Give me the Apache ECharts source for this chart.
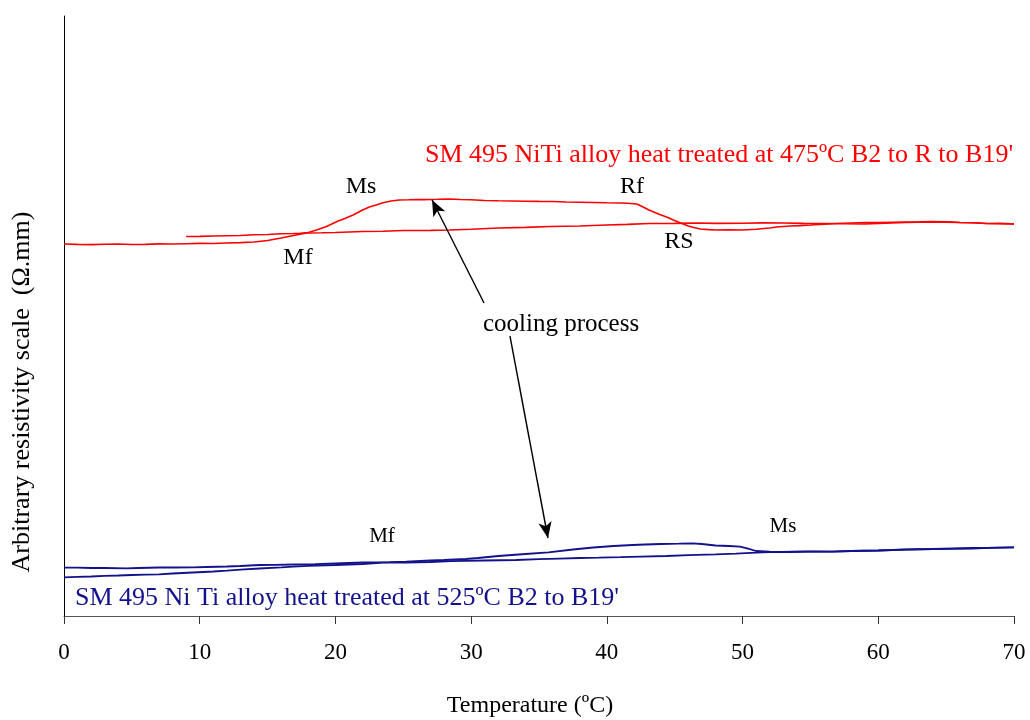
<!DOCTYPE html>
<html>
<head>
<meta charset="utf-8">
<title>Resistivity vs temperature</title>
<script src="https://cdn.jsdelivr.net/npm/echarts@6/dist/echarts.min.js"></script>
<style>
  html, body { margin: 0; padding: 0; background: #fff; }
  #chart { width: 1030px; height: 720px; }
</style>
</head>
<body>
<div id="chart"></div>
<script>
// Temperature ticks (ºC)
const xTicks = [0, 10, 20, 30, 40, 50, 60, 70];

// 475ºC sample (B2 -> R -> B19'), arbitrary resistivity units
const redHeating = [
  [0, 372], [1, 371.6], [2, 371.4], [3, 371.8], [4, 372], [5, 371.5], [6, 371.6], [7, 372.1],
  [8, 372], [9, 372.3], [10, 372.6], [11, 372.5], [12, 373], [13, 373.4], [14, 374],
  [15, 375.5], [16, 378], [17, 380.8], [17.9, 383], [19, 383.2], [20, 383.5], [21, 384],
  [22, 384.5], [23.5, 384.8], [25, 385.5], [27, 385.6], [28.4, 386], [30, 386.8], [32, 388],
  [34, 388.6], [35.8, 389.5], [38, 390], [40, 391], [41.5, 391.6], [43.1, 392.5], [45, 392.6],
  [46.6, 393], [48, 392.6], [50, 392.7], [51.5, 393.1], [53, 393], [54.5, 392.6], [56, 392.5],
  [57.5, 392.2], [59, 392], [60.5, 392.8], [62, 393.5], [63, 393.8], [64, 394], [65, 393.9],
  [66, 393.5], [67, 393.2], [68, 392.5], [69, 392.3], [70, 392]
];
const redCooling = [
  [70, 392], [69, 392.6], [68, 392.5], [67, 393.2], [66, 393.5], [65, 394.2], [64, 394.5],
  [63, 394.2], [62, 394], [61, 393.8], [60, 393.5], [59, 393.4], [58, 393], [56.9, 392.5],
  [56, 391.8], [55, 391], [54.2, 390.4], [53.5, 390], [52.5, 389], [52, 388], [51, 386.8],
  [50, 386], [49, 386.3], [48, 386], [47.5, 386.4], [46.9, 387], [46.4, 388.5], [46, 390],
  [45.4, 393.3], [44.9, 396], [44.4, 399], [43.8, 402], [43.1, 406], [42.6, 409.5],
  [42.2, 412], [41.5, 412.8], [41, 413], [40, 413.2], [39, 413.5], [38, 413.8], [37, 414],
  [36, 414.5], [35, 414.6], [34, 414.8], [33, 415], [32, 415.2], [31, 415.5], [30, 416.2],
  [29.2, 416.5], [28.4, 417], [27.5, 416.7], [26.5, 416.4], [26, 416.5], [25.4, 416.2],
  [24.7, 416], [24.1, 415], [23.5, 413.3], [23, 411], [22.5, 409], [22, 406], [21.3, 401],
  [20.7, 397.5], [20.2, 395], [19.3, 389.3], [18.6, 386], [18, 383.5], [17.4, 382.8],
  [16.9, 382.5], [16, 382.2], [15, 381.5], [14, 381.3], [13, 380.5], [12, 380.3],
  [11, 380], [10, 379.6], [9, 379.5]
];

// 525ºC sample (B2 -> B19'), arbitrary resistivity units
const blueHeating = [
  [0, 38.7], [1, 39.2], [2, 39.5], [3, 40.2], [4, 40.5], [5, 41], [6, 41.4], [7, 41.7],
  [8, 42.5], [9.5, 43.5], [11, 44.5], [12, 45.3], [13, 46.3], [14.4, 47.5], [16, 48.6],
  [16.9, 49.3], [18, 50.2], [20, 51], [22, 52], [23.5, 53.3], [25.2, 53.5], [27, 54],
  [28.5, 54.8], [29.6, 55.2], [31, 55.5], [33.3, 56], [35, 56.8], [36.5, 57.4], [38, 58],
  [39.4, 58.3], [41, 58.8], [42.5, 59.4], [44.4, 60], [46, 60.8], [48, 61.7], [49.5, 62.4],
  [51, 63.3], [52, 63.8], [53, 64], [54.5, 64.3], [56.6, 64.3], [58, 65], [60, 65.5],
  [62, 66.3], [64, 67], [65.5, 67.2], [67, 67.5], [68.5, 68.3], [70, 68.7]
];
const blueCooling = [
  [70, 68.7], [68.5, 68.2], [67, 68], [65.5, 67.6], [64, 67], [62, 66.5], [60, 65.5],
  [58, 65], [56.6, 64.3], [55, 64.5], [53, 64], [52, 64.4], [51, 65], [50.4, 67.3],
  [49.8, 69.3], [49, 70], [48, 70.5], [47, 72], [46.3, 72.7], [45.3, 72.3], [44, 72],
  [42.8, 71.5], [41.9, 71], [40.5, 70], [39, 68.5], [37.5, 66.5], [35.7, 63.7], [34, 62],
  [32, 60], [30.5, 58], [29.6, 57], [28, 56], [27, 55.5], [25.2, 54.3], [24, 53.8],
  [22, 53.5], [20, 52.5], [18.5, 51.8], [17, 51.5], [15.5, 51.2], [14.4, 51], [13, 50],
  [12, 49.5], [10.5, 49], [9.5, 48.7], [8, 48.5], [7, 48.5], [5.5, 48], [4.6, 47.7],
  [3, 48], [2, 48], [1, 48.3], [0, 48.3]
];

// "cooling process" arrows: [tail, head] in data coordinates
const arrowUp = [[30.95, 313], [27.12, 416]];
const arrowDown = [[32.86, 280], [35.66, 78]];

const serif = '"Liberation Serif", "Times New Roman", serif';
const RED = '#ff0000';
const BLUE = '#12128c';

const chart = echarts.init(document.getElementById('chart'), null, { renderer: 'canvas' });

function lineSeries(data, color, width, extra) {
  return Object.assign({
    type: 'line',
    data: data,
    showSymbol: false,
    symbol: 'none',
    smooth: false,
    silent: true,
    animation: false,
    lineStyle: { color: color, width: width }
  }, extra || {});
}

function text(str, x, y, opts) {
  opts = opts || {};
  return {
    type: 'text',
    x: x,
    y: y,
    rotation: opts.rotation || 0,
    silent: true,
    style: {
      text: str,
      fill: opts.color || '#000',
      font: (opts.size || 24) + 'px ' + serif,
      align: opts.align || 'center',
      verticalAlign: 'middle'
    }
  };
}

const arrowLine = (pair) => [
  { coord: pair[0], symbol: 'none' },
  { coord: pair[1], symbol: 'arrow' }
];

chart.setOption({
  animation: false,
  backgroundColor: '#fff',
  grid: { left: 64, right: 16, top: 16, bottom: 104, containLabel: false },
  xAxis: {
    type: 'value',
    min: xTicks[0],
    max: xTicks[xTicks.length - 1],
    interval: 10,
    axisLine: { show: true, lineStyle: { color: '#555', width: 1 } },
    axisTick: { show: true, inside: false, length: 8, lineStyle: { color: '#333' } },
    axisLabel: { color: '#000', fontFamily: serif, fontSize: 23, margin: 25 },
    splitLine: { show: false }
  },
  yAxis: {
    type: 'value',
    min: 0,
    max: 600,
    axisLine: { show: true, onZero: false, lineStyle: { color: '#000', width: 1 } },
    axisTick: { show: false },
    axisLabel: { show: false },
    splitLine: { show: false }
  },
  series: [
    lineSeries(redHeating, RED, 1.6),
    lineSeries(redCooling, RED, 1.6, {
      markLine: {
        silent: true,
        animation: false,
        symbolSize: [10, 16],
        label: { show: false },
        lineStyle: { color: '#000', width: 1.4, type: 'solid' },
        data: [arrowLine(arrowUp), arrowLine(arrowDown)]
      }
    }),
    lineSeries(blueHeating, BLUE, 1.8),
    lineSeries(blueCooling, BLUE, 1.8)
  ],
  graphic: [
    text("SM 495 NiTi alloy heat treated at 475ºC B2 to R to B19'", 425, 155, { align: 'left', color: RED, size: 26 }),
    text('Ms', 361, 187),
    text('Rf', 632, 187),
    text('Mf', 298, 258),
    text('RS', 679, 242),
    text('cooling process', 561, 324, { size: 25 }),
    text('Mf', 382, 536, { size: 21 }),
    text('Ms', 783, 526, { size: 21 }),
    text("SM 495 Ni Ti alloy heat treated at 525ºC B2 to B19'", 75, 598, { align: 'left', color: BLUE, size: 26 }),
    text('Temperature (ºC)', 530, 706, { size: 24 }),
    text('Arbitrary resistivity scale  (Ω.mm)', 22, 392, { rotation: Math.PI / 2, size: 26 })
  ]
});
</script>
</body>
</html>
